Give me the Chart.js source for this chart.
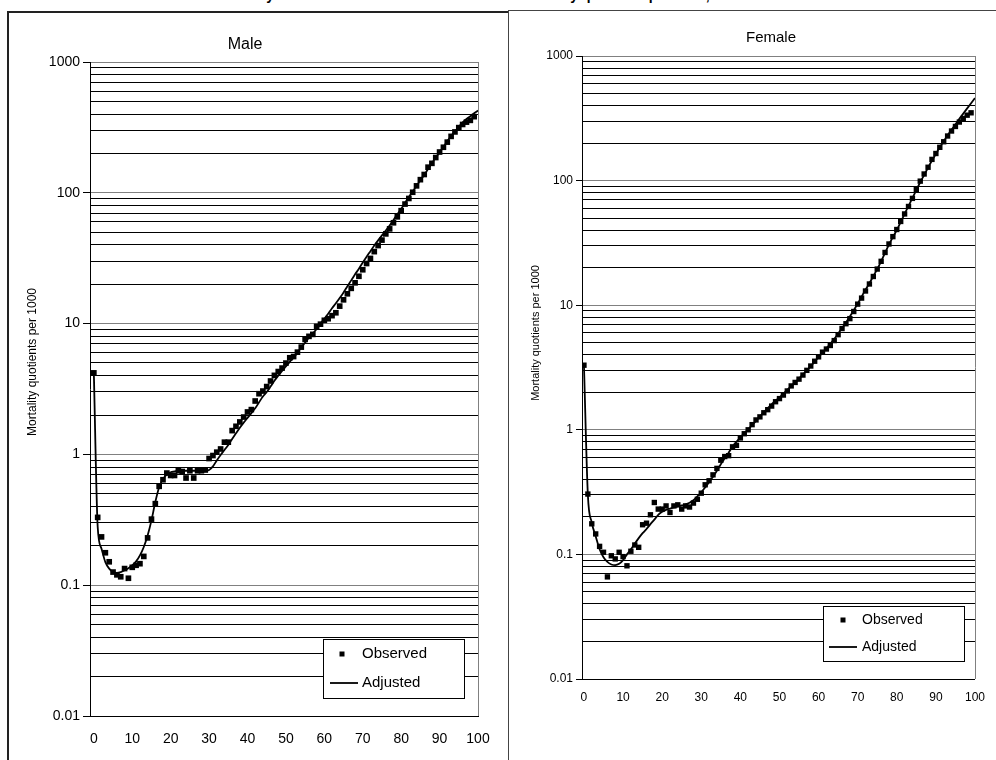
<!DOCTYPE html>
<html>
<head>
<meta charset="utf-8">
<script src="https://cdn.jsdelivr.net/npm/chart.js@4.4.1/dist/chart.umd.min.js"></script>
<style>
  html, body { margin: 0; padding: 0; background: #fff; overflow: hidden; }
  body { width: 996px; height: 760px; position: relative; font-family: "Liberation Sans", Arial, sans-serif; }
  #title { position: absolute; left: 0; top: -13px; width: 996px; text-align: center;
           font-weight: bold; font-size: 14px; line-height: 16px; color: #000; }
  #maleBox { position: absolute; left: 7px; top: 11px; width: 560px; height: 800px;
             border: 2px solid #222; background: #fff; z-index: 1; }
  #femaleBox { position: absolute; left: 508px; top: 10px; width: 560px; height: 800px;
               border: 1px solid #444; background: #fff; z-index: 3; }
  #maleWrap { position: absolute; left: 0; top: 0; width: 508px; height: 760px; z-index: 2; }
  #femaleWrap { position: absolute; left: 508px; top: 0; width: 488px; height: 760px; z-index: 4; }
</style>
</head>
<body>
<div id="title">Mortality indicators: observed and smoothed mortality quotients per 1000, 2000-2002</div>
<div id="maleBox"></div>
<div id="maleWrap"><canvas id="maleChart"></canvas></div>
<div id="femaleBox"></div>
<div id="femaleWrap"><canvas id="femaleChart"></canvas></div>

<script>
// ages: observed 0-99, adjusted curve 0-100
const obsAges = Array.from({ length: 100 }, (_, i) => i);
const adjAges = Array.from({ length: 101 }, (_, i) => i);

// mortality quotients per 1000
const maleObserved = [
  4.2, 0.33, 0.234, 0.177, 0.151, 0.126, 0.12, 0.116, 0.134, 0.113,
  0.137, 0.142, 0.146, 0.166, 0.23, 0.32, 0.42, 0.57, 0.64, 0.72,
  0.69, 0.69, 0.75, 0.74, 0.66, 0.75, 0.66, 0.75, 0.75, 0.76,
  0.93, 0.98, 1.04, 1.1, 1.24, 1.24, 1.52, 1.64, 1.77, 1.93,
  2.11, 2.2, 2.56, 2.91, 3.05, 3.3, 3.64, 4.02, 4.3, 4.57,
  4.99, 5.48, 5.6, 6.05, 6.61, 7.57, 7.99, 8.27, 9.52, 9.9,
  10.6, 10.9, 11.5, 12.1, 13.6, 15.2, 16.9, 18.6, 20.5, 23.0,
  25.8, 28.8, 31.5, 35.5, 39.5, 43.5, 48.5, 53, 59, 65.5,
  73, 82, 90.5, 101, 113, 126, 138, 157, 168, 186,
  205, 223, 244, 270, 292, 315, 333, 347, 358, 382
];
const maleAdjusted = [
  4.2, 0.28, 0.19, 0.15, 0.134, 0.126, 0.124, 0.126, 0.13, 0.135,
  0.142, 0.152, 0.169, 0.196, 0.24, 0.313, 0.432, 0.56, 0.65, 0.70,
  0.73, 0.74, 0.75, 0.75, 0.75, 0.75, 0.75, 0.75, 0.75, 0.75,
  0.76, 0.81, 0.9, 0.99, 1.08, 1.18, 1.31, 1.45, 1.6, 1.75,
  1.9, 2.07, 2.25, 2.5, 2.77, 3.0, 3.3, 3.65, 4.0, 4.35,
  4.7, 5.1, 5.5, 6.0, 6.6, 7.15, 7.8, 8.4, 9.1, 10.0,
  10.9, 11.9, 13.1, 14.3, 15.7, 17.3, 19.3, 21.4, 23.8, 26.3,
  29.3, 32.5, 35.8, 39.5, 43.3, 47.3, 51.5, 56.2, 62, 68.5,
  75.5, 83.5, 93, 102, 113, 125, 137, 152, 168, 186,
  204, 224, 248, 272, 295, 320, 345, 367, 385, 405, 425
];
const femaleObserved = [
  3.3, 0.305, 0.176, 0.146, 0.116, 0.104, 0.066, 0.0975, 0.092, 0.104,
  0.096, 0.081, 0.106, 0.119, 0.114, 0.173, 0.178, 0.208, 0.261, 0.231,
  0.231, 0.245, 0.217, 0.245, 0.25, 0.231, 0.245, 0.24, 0.258, 0.277,
  0.31, 0.362, 0.39, 0.435, 0.49, 0.57, 0.61, 0.62, 0.73, 0.75,
  0.86, 0.93, 1.0, 1.1, 1.2, 1.27, 1.37, 1.45, 1.55, 1.68,
  1.78, 1.9, 2.05, 2.25, 2.4, 2.55, 2.75, 3.0, 3.25, 3.55,
  3.85, 4.2, 4.45, 4.75, 5.2, 5.8, 6.5, 7.1, 7.8, 8.9,
  10.2, 11.4, 13.0, 14.8, 17.0, 19.5, 22.5, 26.5, 31, 35.5,
  40.5, 47, 54, 62, 72, 85, 99, 113, 128, 148,
  165, 185, 205, 228, 250, 272, 295, 315, 335, 350
];
const femaleAdjusted = [
  3.3, 0.3, 0.18, 0.14, 0.11, 0.095, 0.087, 0.083, 0.082, 0.084,
  0.09, 0.1, 0.11, 0.122, 0.135, 0.148, 0.16, 0.175, 0.19, 0.208,
  0.22, 0.228, 0.233, 0.238, 0.243, 0.247, 0.252, 0.26, 0.272, 0.292,
  0.315, 0.345, 0.38, 0.42, 0.47, 0.53, 0.59, 0.655, 0.73, 0.8,
  0.87, 0.94, 1.01, 1.09, 1.18, 1.28, 1.38, 1.49, 1.6, 1.72,
  1.82, 1.95, 2.09, 2.24, 2.4, 2.58, 2.78, 3.0, 3.25, 3.52,
  3.85, 4.15, 4.5, 4.9, 5.35, 5.9, 6.55, 7.25, 8.1, 9.1,
  10.3, 11.7, 13.3, 15.0, 17.1, 19.5, 22.5, 26.3, 30.6, 35.2,
  40, 46.5, 54, 62.5, 72.5, 84, 97, 111, 127, 145,
  164, 185, 207, 231, 256, 283, 313, 345, 380, 418, 459
];

// axis ticks
const xTicks = [0, 10, 20, 30, 40, 50, 60, 70, 80, 90, 100];
const yDecades = [0.01, 0.1, 1, 10, 100, 1000];
const yMinorSteps = [2, 3, 4, 5, 6, 7, 8, 9];
const yTitle = 'Mortality quotients per 1000';

const FONT = '"Liberation Sans", Arial, sans-serif';

const yTickList = [];
yDecades.forEach((d, i) => {
  yTickList.push(d);
  if (i < yDecades.length - 1) yMinorSteps.forEach(m => yTickList.push(d * m));
});
const isMajor = v => yDecades.some(d => Math.abs(v - d) < d * 1e-6);

const pairs = (xs, ys) => xs.map((x, i) => ({ x: x, y: ys[i] }));

// titles, y-axis title and right plot border
const panelText = {
  id: 'panelText',
  afterDraw(chart, args, o) {
    const ctx = chart.ctx, a = chart.chartArea;
    ctx.save();
    ctx.strokeStyle = '#808080';
    ctx.lineWidth = 1;
    ctx.beginPath();
    ctx.moveTo(Math.round(a.right) + 0.5, a.top);
    ctx.lineTo(Math.round(a.right) + 0.5, a.bottom);
    ctx.stroke();
    ctx.fillStyle = '#000';
    ctx.textAlign = 'center';
    ctx.textBaseline = 'middle';
    ctx.font = o.titleSize + 'px ' + FONT;
    ctx.fillText(o.title, o.titleX, o.titleY);
    ctx.translate(o.yTitleX, o.yTitleY);
    ctx.rotate(-Math.PI / 2);
    ctx.font = o.yTitleSize + 'px ' + FONT;
    ctx.fillText(yTitle, 0, 0);
    ctx.restore();
  }
};

// boxed legend inside the plot
const boxLegend = {
  id: 'boxLegend',
  afterDraw(chart, args, o) {
    const ctx = chart.ctx, ds = chart.data.datasets;
    ctx.save();
    ctx.fillStyle = '#fff';
    ctx.fillRect(o.x, o.y, o.w, o.h);
    ctx.strokeStyle = '#000';
    ctx.lineWidth = 1;
    ctx.strokeRect(o.x + 0.5, o.y + 0.5, o.w, o.h);
    ctx.fillStyle = '#000';
    ctx.fillRect(o.markX - o.mark / 2, o.row1 - o.mark / 2, o.mark, o.mark);
    ctx.beginPath();
    ctx.moveTo(o.lineX0, o.row2);
    ctx.lineTo(o.lineX1, o.row2);
    ctx.lineWidth = ds[1].borderWidth;
    ctx.stroke();
    ctx.font = o.size + 'px ' + FONT;
    ctx.textAlign = 'left';
    ctx.textBaseline = 'middle';
    ctx.fillText(ds[0].label, o.textX, o.row1);
    ctx.fillText(ds[1].label, o.textX, o.row2);
    ctx.restore();
  }
};

function makeChart(id, c) {
  return new Chart(document.getElementById(id), {
    type: 'scatter',
    data: {
      datasets: [
        {
          label: 'Observed',
          data: pairs(obsAges, c.observed),
          showLine: false,
          pointStyle: 'rect',
          pointRadius: c.markR,
          pointHoverRadius: c.markR,
          backgroundColor: '#000',
          borderColor: '#000',
          borderWidth: 0
        },
        {
          label: 'Adjusted',
          data: pairs(adjAges, c.adjusted),
          showLine: true,
          pointRadius: 0,
          borderColor: '#000',
          borderWidth: 1.8,
          cubicInterpolationMode: 'monotone'
        }
      ]
    },
    options: {
      responsive: true,
      maintainAspectRatio: false,
      animation: false,
      devicePixelRatio: 1,
      layout: { padding: { top: c.top, right: c.right, left: 0, bottom: 0 } },
      plugins: {
        legend: { display: false },
        tooltip: { enabled: false },
        panelText: c.text,
        boxLegend: c.legend
      },
      scales: {
        x: {
          type: 'linear',
          min: c.xMin,
          max: 100,
          afterBuildTicks: s => { s.ticks = xTicks.map(v => ({ value: v })); },
          afterFit: s => { s.height = c.xHeight; },
          grid: { display: false, drawTicks: false },
          border: { display: true, color: '#000', width: 1 },
          ticks: { color: '#000', font: { family: FONT, size: c.tickSize }, padding: c.xPad,
                   maxRotation: 0, autoSkip: false }
        },
        y: {
          type: 'logarithmic',
          min: 0.01,
          max: 1000,
          afterBuildTicks: s => { s.ticks = yTickList.map(v => ({ value: v })); },
          afterFit: s => { s.width = c.yWidth; },
          grid: {
            color: ctx => (ctx.tick && isMajor(ctx.tick.value)) ? '#808080' : '#000',
            tickColor: ctx => (ctx.tick && isMajor(ctx.tick.value)) ? '#000' : 'rgba(0,0,0,0)',
            lineWidth: 1,
            tickLength: c.tickLen
          },
          border: { display: true, color: '#000', width: 1 },
          ticks: {
            color: '#000',
            font: { family: FONT, size: c.tickSize },
            padding: 3,
            autoSkip: false,
            callback: v => isMajor(v) ? String(yDecades.find(d => Math.abs(v - d) < d * 1e-6)) : ''
          }
        }
      }
    },
    plugins: [panelText, boxLegend]
  });
}

makeChart('maleChart', {
  observed: maleObserved, adjusted: maleAdjusted,
  markR: 4, xMin: -1, top: 62, right: 30, yWidth: 90, xHeight: 44,
  xPad: 15, tickSize: 14, tickLen: 7,
  text: { title: 'Male', titleX: 245, titleY: 45, titleSize: 16, yTitleX: 33, yTitleY: 362, yTitleSize: 12 },
  legend: { x: 323, y: 639, w: 141, h: 59, mark: 5, markX: 342, row1: 654, row2: 683,
            lineX0: 330, lineX1: 358, textX: 362, size: 15 }
});

makeChart('femaleChart', {
  observed: femaleObserved, adjusted: femaleAdjusted,
  markR: 3.8, xMin: -0.5, top: 56, right: 17, yWidth: 74, xHeight: 81,
  xPad: 11, tickSize: 12, tickLen: 6,
  text: { title: 'Female', titleX: 263, titleY: 38, titleSize: 15, yTitleX: 28, yTitleY: 333, yTitleSize: 11 },
  legend: { x: 315, y: 606, w: 141, h: 55, mark: 5, markX: 335, row1: 620, row2: 647,
            lineX0: 321, lineX1: 349, textX: 354, size: 14 }
});
</script>
</body>
</html>
